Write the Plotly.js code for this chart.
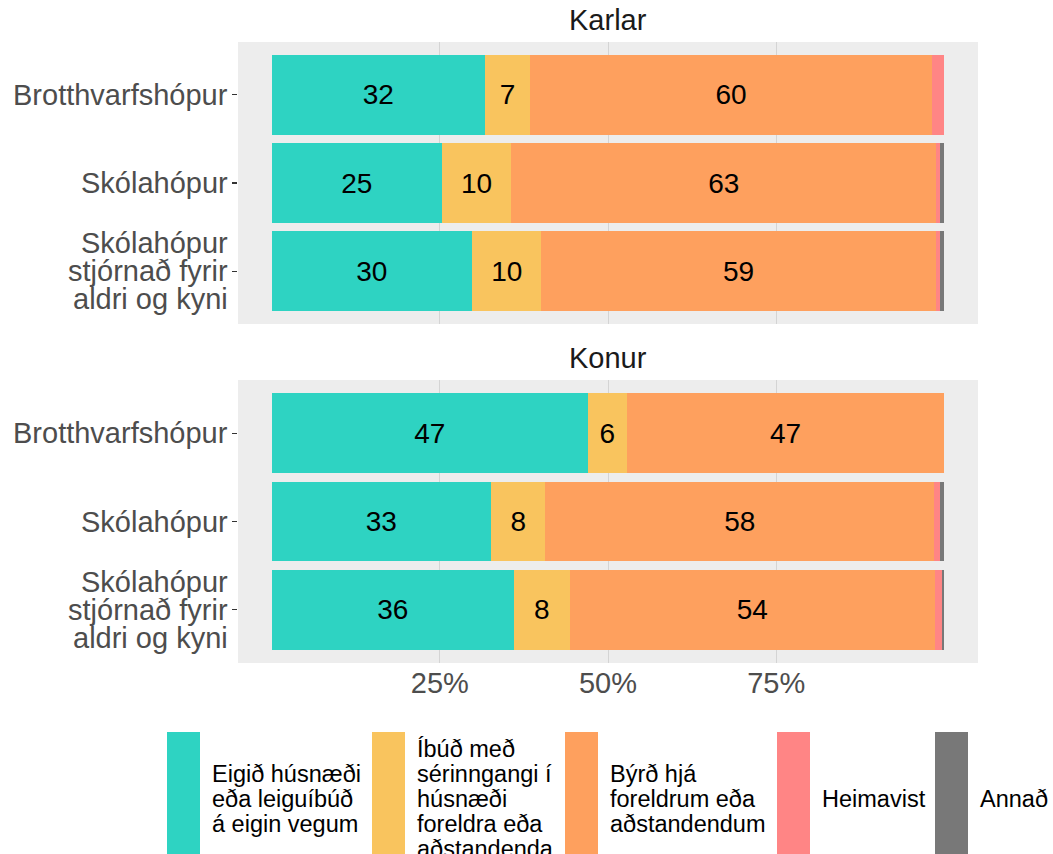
<!DOCTYPE html>
<html><head><meta charset="utf-8">
<script src="https://cdn.plot.ly/plotly-3.0.1.min.js"></script>
<style>html,body{margin:0;padding:0;background:#fff}</style>
</head><body><div id="chart" style="width:1053px;height:854px"></div>
<script>
// ---------- DATA ----------
const panels = ["Karlar", "Konur"];
const groups = ["Brotthvarfshópur", "Skólahópur", "Skólahópur stjórnað fyrir aldri og kyni"];
const groupLabelLines = [["Brotthvarfshópur"], ["Skólahópur"], ["Skólahópur", "stjórnað fyrir", "aldri og kyni"]];
const categories = [
  "Eigið húsnæði eða leiguíbúð á eigin vegum",
  "Íbúð með sérinngangi í húsnæði foreldra eða aðstandenda",
  "Býrð hjá foreldrum eða aðstandendum",
  "Heimavist",
  "Annað"
];
const legendLines = [
  ["Eigið húsnæði", "eða leiguíbúð", "á eigin vegum"],
  ["Íbúð með", "sérinngangi í", "húsnæði", "foreldra eða", "aðstandenda"],
  ["Býrð hjá", "foreldrum eða", "aðstandendum"],
  ["Heimavist"],
  ["Annað"]
];
const colors = ["#2ED3C2", "#F9C45E", "#FEA05E", "#FF8585", "#787878"];

// values (%) in group order
const karlarEigid     = [31.7, 25.3, 29.8];
const karlarIbud      = [6.7, 10.3, 10.3];
const karlarByrd      = [59.8, 63.2, 58.6];
const karlarHeimavist = [1.8, 0.6, 0.7];
const karlarAnnad     = [0.0, 0.6, 0.6];

const konurEigid      = [47.0, 32.6, 36.0];
const konurIbud       = [5.8, 8.1, 8.3];
const konurByrd       = [47.2, 57.8, 54.3];
const konurHeimavist  = [0.0, 0.9, 1.0];
const konurAnnad      = [0.0, 0.6, 0.4];

const xTickVals = [25, 50, 75];
const xTickText = ["25%", "50%", "75%"];

// ---------- BUILD ----------
const FONT = '"Liberation Sans", Arial, Helvetica, sans-serif';
const panelSeries = {
  Karlar: [karlarEigid, karlarIbud, karlarByrd, karlarHeimavist, karlarAnnad],
  Konur:  [konurEigid, konurIbud, konurByrd, konurHeimavist, konurAnnad]
};
const panelAxes = { Karlar: ["x2", "y2"], Konur: ["x", "y"] };

const plotL = 238, plotR = 978, plotT = 42, plotB = 663;
const px2x = px => (px - plotL) / (plotR - plotL);
const py2y = py => (plotB - py) / (plotB - plotT);

const traces = [];
panels.forEach(p => {
  panelSeries[p].forEach((vals, ci) => {
    traces.push({
      type: "bar",
      orientation: "h",
      name: categories[ci],
      x: vals,
      y: groups,
      xaxis: panelAxes[p][0],
      yaxis: panelAxes[p][1],
      width: 0.9,
      marker: { color: colors[ci], line: { width: 0 } },
      text: vals.map(v => v >= 5 ? String(Math.round(v)) : ""),
      textposition: "inside",
      insidetextanchor: "middle",
      textangle: 0,
      textfont: { size: 28, color: "#000000", family: FONT },
      constraintext: "none",
      hoverinfo: "skip",
      showlegend: false
    });
  });
});

const annotations = [];
// facet titles
annotations.push({ text: "Karlar", xref: "paper", yref: "paper", x: 0.5, y: py2y(20), xanchor: "center", yanchor: "middle", showarrow: false, font: { size: 29, color: "#1A1A1A", family: FONT } });
annotations.push({ text: "Konur", xref: "paper", yref: "paper", x: 0.5, y: py2y(357.5), xanchor: "center", yanchor: "middle", showarrow: false, font: { size: 29, color: "#1A1A1A", family: FONT } });

// y category labels (tight line spacing like the original)
const yLineStep = 28;
panels.forEach(p => {
  groupLabelLines.forEach((lines, gi) => {
    const n = lines.length;
    lines.forEach((ln, k) => {
      annotations.push({
        text: ln, xref: "paper", yref: panelAxes[p][1], x: px2x(230), y: gi,
        xanchor: "right", yanchor: "middle", yshift: ((n - 1) / 2 - k) * yLineStep,
        showarrow: false, font: { size: 29, color: "#4D4D4D", family: FONT }
      });
    });
  });
});

// legend (tall keys, as in the original)
const shapes = [];
const keyLeft = [167, 372, 565, 777, 935];
const keyW = 33, keyTop = 732, keyBot = 870, legCenter = 799, legStep = 25;
categories.forEach((c, ci) => {
  shapes.push({ type: "rect", xref: "paper", yref: "paper", x0: px2x(keyLeft[ci]), x1: px2x(keyLeft[ci] + keyW), y0: py2y(keyBot), y1: py2y(keyTop), fillcolor: colors[ci], line: { width: 0 }, layer: "above" });
  const lines = legendLines[ci], n = lines.length;
  lines.forEach((ln, k) => {
    annotations.push({
      text: ln, xref: "paper", yref: "paper", x: px2x(keyLeft[ci] + keyW + 10), y: py2y(legCenter + (k - (n - 1) / 2) * legStep),
      xanchor: "left", yanchor: "middle", showarrow: false, font: { size: 23.5, color: "#000000", family: FONT }
    });
  });
});

const yAxisBase = {
  type: "category", categoryarray: groups, categoryorder: "array", range: [2.6, -0.6],
  ticks: "outside", ticklen: 5, tickwidth: 1.1, tickcolor: "#333333",
  showticklabels: false, showgrid: false, zeroline: false, showline: false, fixedrange: true
};
const xAxisBase = {
  range: [-5, 105], tickvals: xTickVals, ticktext: xTickText, ticks: "",
  showgrid: true, gridcolor: "#D4D4D4", gridwidth: 1, zeroline: false, showline: false,
  tickfont: { size: 29, color: "#4D4D4D", family: FONT }, fixedrange: true
};

const layout = {
  width: 1053, height: 854,
  margin: { l: plotL, r: 1053 - plotR, t: plotT, b: 854 - plotB, pad: 0 },
  paper_bgcolor: "#FFFFFF", plot_bgcolor: "#EDEDED",
  barmode: "stack", bargap: 0.1,
  showlegend: false,
  font: { family: FONT },
  xaxis: Object.assign({}, xAxisBase, { anchor: "y" }),
  xaxis2: Object.assign({}, xAxisBase, { anchor: "y2", matches: "x", showticklabels: false }),
  yaxis: Object.assign({}, yAxisBase, { domain: [0, py2y(380)], anchor: "x" }),
  yaxis2: Object.assign({}, yAxisBase, { domain: [py2y(324), 1], anchor: "x2" }),
  annotations: annotations,
  shapes: shapes
};

Plotly.newPlot("chart", traces, layout, { displayModeBar: false, staticPlot: true });
</script>
</body></html>
